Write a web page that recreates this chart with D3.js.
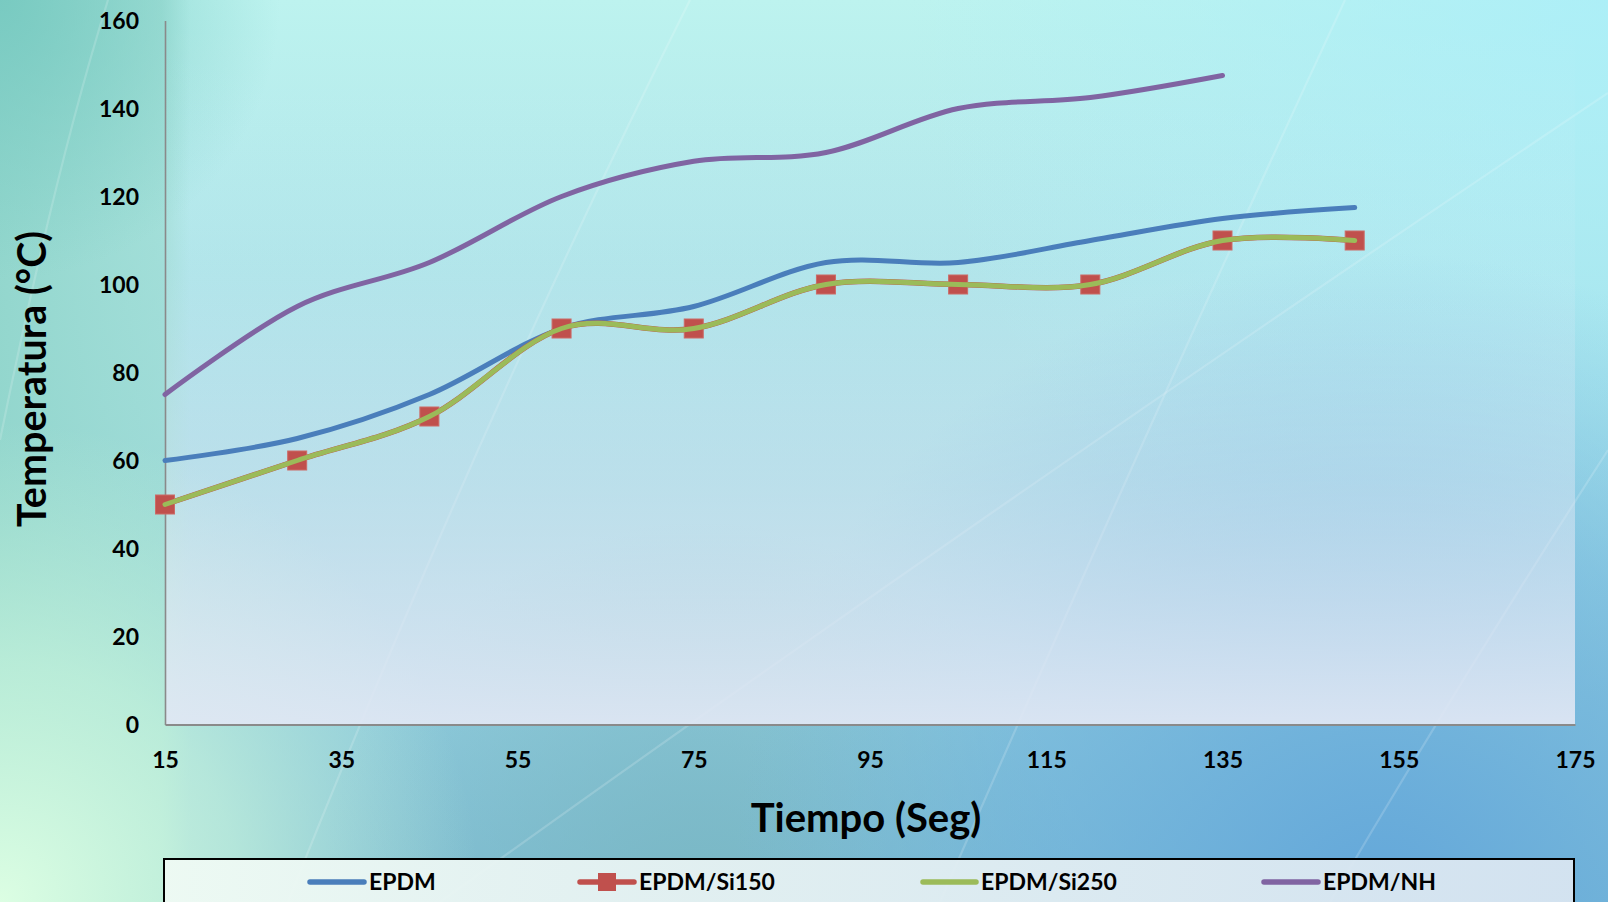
<!DOCTYPE html>
<html>
<head>
<meta charset="utf-8">
<script src="https://cdn.jsdelivr.net/npm/d3@7"></script>
<style>
  html, body { margin: 0; padding: 0; overflow: hidden; background: #b4ecea; }
  svg { display: block; }
  text { font-family: Lato, "Open Sans", sans-serif; font-weight: 700; fill: #000; }
</style>
</head>
<body>
<svg id="chart" width="1608" height="902"></svg>
<script>
// Temperatura vs tiempo for four EPDM compounds
const tiempo      = [15, 30, 45, 60, 75, 90, 105, 120, 135, 150];
const epdm        = [60, 65, 75, 90, 95, 105, 105, 110, 115, 117.5];
const epdmSi150   = [50, 60, 70, 90, 90, 100, 100, 100, 110, 110];
const epdmSi250   = [50, 60, 70, 90, 90, 100, 100, 100, 110, 110];
const epdmNH      = [75, 95, 105, 120, 128, 130, 140, 142.5, 147.5];
const seriesNames = ["EPDM", "EPDM/Si150", "EPDM/Si250", "EPDM/NH"];
const xTicks      = [15, 35, 55, 75, 95, 115, 135, 155, 175];
const yTicks      = [0, 20, 40, 60, 80, 100, 120, 140, 160];

const W = 1608, H = 902;
const plot = { left: 165, right: 1575, top: 20.5, bottom: 724.5 };

const svg = d3.select("#chart");
const defs = svg.append("defs");

function linear(id, x1, y1, x2, y2, stops) {
  const g = defs.append("linearGradient").attr("id", id)
    .attr("x1", x1).attr("y1", y1).attr("x2", x2).attr("y2", y2);
  stops.forEach(s => g.append("stop").attr("offset", s[0])
    .attr("stop-color", s[1]).attr("stop-opacity", s[2] == null ? 1 : s[2]));
}
function radial(id, cx, cy, r, stops) {
  const g = defs.append("radialGradient").attr("id", id)
    .attr("gradientUnits", "userSpaceOnUse")
    .attr("cx", cx).attr("cy", cy).attr("r", r);
  stops.forEach(s => g.append("stop").attr("offset", s[0])
    .attr("stop-color", s[1]).attr("stop-opacity", s[2] == null ? 1 : s[2]));
}

// ---- slide background ----
linear("bgBase", 0, 0, 0, 1, [[0, "#bdf3ef"], [0.45, "#a4dde6"], [1, "#80bed4"]]);
radial("bgTopRight", 1608, 0, 700, [[0, "#a9eef9", 0.8], [1, "#a9eef9", 0]]);
radial("bgBlue", 1380, 902, 650, [[0, "#62a6da", 0.95], [0.6, "#6cb0dd", 0.5], [1, "#74b8e0", 0]]);
radial("bgTeal", 700, 902, 380, [[0, "#78b6c2", 0.85], [1, "#78b6c2", 0]]);
linear("bgLeft", 0, 0, 1, 0, [[0, "#92d6cc", 0.95], [0.85, "#9cdbd1", 0.7], [1, "#9cdbd1", 0]]);
radial("bgGreen", 0, 902, 480, [[0, "#dcfee3", 1], [0.5, "#c8f5dc", 0.7], [1, "#c0f0d8", 0]]);
radial("bgTopLeft", 0, 0, 280, [[0, "#74c8bf", 0.85], [1, "#74c8bf", 0]]);

const bg = svg.append("g");
bg.append("rect").attr("width", W).attr("height", H).attr("fill", "url(#bgBase)");
bg.append("rect").attr("width", W).attr("height", H).attr("fill", "url(#bgTopRight)");
bg.append("rect").attr("width", W).attr("height", H).attr("fill", "url(#bgTeal)");
bg.append("rect").attr("width", W).attr("height", H).attr("fill", "url(#bgBlue)");
bg.append("rect").attr("width", 190).attr("height", H).attr("fill", "url(#bgLeft)");
bg.append("rect").attr("width", W).attr("height", H).attr("fill", "url(#bgGreen)");
bg.append("rect").attr("width", W).attr("height", H).attr("fill", "url(#bgTopLeft)");

// faint light streaks across the slide
const streaks = [
  "M108,0 Q55,170 0,440",
  "M690,0 Q480,420 288,902",
  "M1608,93 Q1000,500 440,902",
  "M1345,0 Q1150,420 940,902",
  "M1608,450 Q1460,680 1330,902"
];
bg.selectAll("path.streak").data(streaks).join("path")
  .attr("class", "streak").attr("d", d => d)
  .attr("fill", "none").attr("stroke", "#ffffff")
  .attr("stroke-opacity", 0.17).attr("stroke-width", 2.2);

// ---- plot area ----
linear("plotFill", 0, 0, 0, 1, [
  [0, "#eef3fb", 0], [0.35, "#e6ecf7", 0.1], [0.65, "#e2e9f5", 0.42], [1, "#e0e7f4", 0.93]
]);
svg.append("rect")
  .attr("x", plot.left).attr("y", plot.top)
  .attr("width", plot.right - plot.left).attr("height", plot.bottom - plot.top)
  .attr("fill", "url(#plotFill)");

const x = d3.scaleLinear().domain([15, 175]).range([plot.left, plot.right]);
const y = d3.scaleLinear().domain([0, 160]).range([plot.bottom, plot.top]);

// axes
const yAxis = svg.append("g").attr("transform", `translate(${plot.left},0)`)
  .call(d3.axisLeft(y).tickValues(yTicks).tickSize(0).tickPadding(26));
yAxis.select(".domain").attr("stroke", "#8a8a8a").attr("stroke-width", 1.6);
yAxis.selectAll("text").attr("dy", "0.36em")
  .style("font-family", "Lato, sans-serif").style("font-weight", 700)
  .style("font-size", "23px").attr("fill", "#000");

const xAxis = svg.append("g").attr("transform", `translate(0,${plot.bottom})`)
  .call(d3.axisBottom(x).tickValues(xTicks).tickSize(0));
xAxis.select(".domain").attr("stroke", "#8a8a8a").attr("stroke-width", 2);
xAxis.selectAll("text").attr("dy", 0).attr("y", 43.5)
  .style("font-family", "Lato, sans-serif").style("font-weight", 700)
  .style("font-size", "23px").attr("fill", "#000");

// axis titles
svg.append("text")
  .attr("x", 866).attr("y", 832)
  .attr("text-anchor", "middle").style("font-size", "40px")
  .text("Tiempo (Seg)");
svg.append("text")
  .attr("transform", "translate(46,379) rotate(-90)")
  .attr("text-anchor", "middle").style("font-size", "39.5px")
  .text("Temperatura (°C)");

// ---- series ----
const colors = { epdm: "#4a7ebb", si150: "#c0504d", si250: "#9bbb59", nh: "#8064a2" };
const line = d3.line()
  .x(d => x(d[0])).y(d => y(d[1]))
  .curve(d3.curveCardinal.tension(0));

const pairs = vals => vals.map((v, i) => [tiempo[i], v]);
const seriesData = [
  { key: "epdm", pts: pairs(epdm), width: 5 },
  { key: "si150", pts: pairs(epdmSi150), width: 5.5, markers: true },
  { key: "si250", pts: pairs(epdmSi250), width: 5 },
  { key: "nh", pts: pairs(epdmNH), width: 5 }
];

const gSeries = svg.append("g");
seriesData.forEach(s => {
  gSeries.append("path").datum(s.pts)
    .attr("d", line).attr("fill", "none")
    .attr("stroke", colors[s.key]).attr("stroke-width", s.width)
    .attr("stroke-linecap", "round").attr("stroke-linejoin", "round");
  if (s.markers) {
    const m = 19;
    gSeries.selectAll(null).data(s.pts).join("rect")
      .attr("x", d => x(d[0]) - m / 2).attr("y", d => y(d[1]) - m / 2)
      .attr("width", m).attr("height", m)
      .attr("fill", colors[s.key]).attr("stroke", "#cc6a67").attr("stroke-width", 1);
  }
});

// ---- legend ----
linear("legendFill", 0, 0, 1, 0, [[0, "#effaf4", 0.95], [1, "#d8e5f1", 0.95]]);
svg.append("rect")
  .attr("x", 164).attr("y", 859).attr("width", 1410).attr("height", 60)
  .attr("fill", "url(#legendFill)").attr("stroke", "#000").attr("stroke-width", 2);

const legendItems = [
  { key: "epdm", x0: 310, x1: 364 },
  { key: "si150", x0: 580, x1: 634, marker: true },
  { key: "si250", x0: 923, x1: 976 },
  { key: "nh", x0: 1264, x1: 1318 }
];
const ly = 882;
const lg = svg.append("g");
legendItems.forEach((it, i) => {
  lg.append("line").attr("x1", it.x0).attr("x2", it.x1).attr("y1", ly).attr("y2", ly)
    .attr("stroke", colors[it.key]).attr("stroke-width", 5.5).attr("stroke-linecap", "round");
  if (it.marker) {
    lg.append("rect").attr("x", (it.x0 + it.x1) / 2 - 9).attr("y", ly - 9)
      .attr("width", 18).attr("height", 18).attr("fill", colors[it.key]);
  }
  lg.append("text").attr("x", it.x1 + 5).attr("y", 890)
    .style("font-size", "23px").text(seriesNames[i]);
});
</script>
</body>
</html>
